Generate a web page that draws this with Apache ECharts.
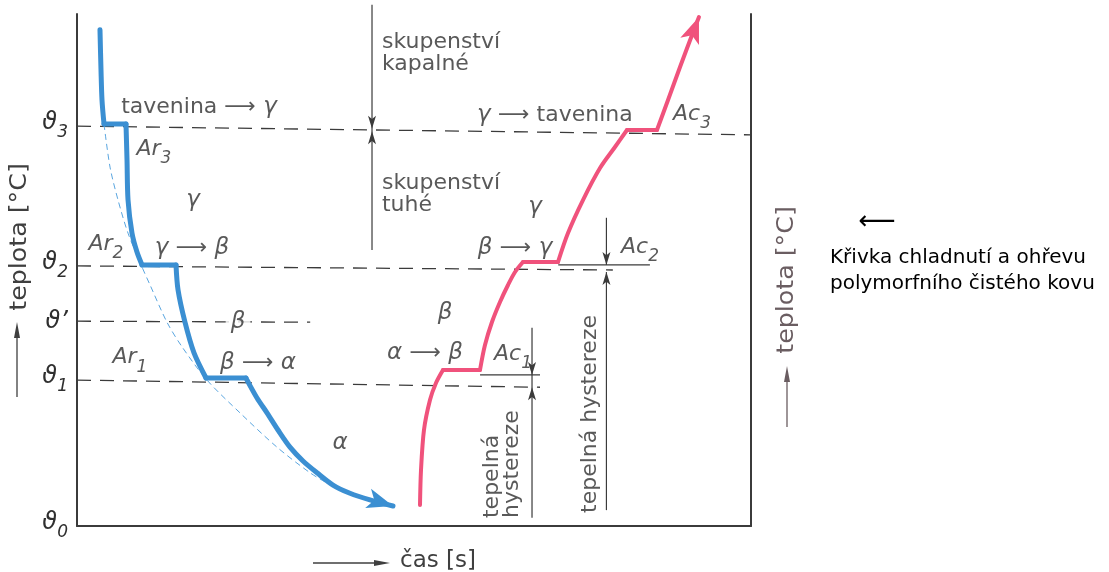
<!DOCTYPE html>
<html>
<head>
<meta charset="utf-8">
<script src="https://cdn.jsdelivr.net/npm/echarts@6/dist/echarts.min.js"></script>
<style>
  html, body { margin: 0; padding: 0; background: #fff; }
  #chart { width: 1109px; height: 572px; }
</style>
</head>
<body>
<div id="chart"></div>
<script>
// Cooling and heating curve of a polymorphic pure metal.
// Time runs 0..100 along x, temperature 0..100 along y (relative units).

// cooling: melt -> gamma -> beta -> alpha, with arrests Ar3, Ar2, Ar1
const coolingCurve = [
  [3.41, 96.9], [3.56, 89.1], [3.71, 83.2], [4.01, 78.5], [7.27, 78.5],
  [7.42, 71.5], [7.57, 63.7], [8.16, 57.2], [8.90, 53.5], [9.64, 51.0],
  [14.69, 51.0], [14.99, 46.1], [16.02, 39.8], [17.36, 33.8], [19.14, 28.9],
  [25.07, 28.9], [25.22, 28.5], [26.71, 25.0], [28.19, 22.1], [29.82, 18.75],
  [31.60, 15.4], [33.53, 12.7], [35.61, 10.4], [37.98, 8.0], [40.50, 6.4],
  [43.47, 5.1], [46.88, 3.9]
];

// cooling without transformations (thin dashed)
const plainCooling = [
  [4.01, 78.5], [4.90, 70.1], [6.08, 63.7], [7.57, 57.2], [9.64, 50.6],
  [10.83, 47.1], [13.35, 39.8], [15.58, 35.0], [19.29, 28.5], [24.18, 22.1],
  [29.67, 15.4], [34.57, 10.4], [37.09, 8.4]
];

// heating: alpha -> beta -> gamma -> melt, with arrests Ac1, Ac2, Ac3
const heatingCurve = [
  [50.89, 4.10], [51.04, 10.94], [51.48, 18.75], [52.37, 24.61], [53.26, 27.93],
  [54.30, 30.47], [59.79, 30.47], [60.53, 35.35], [61.57, 39.84], [62.76, 43.75],
  [63.95, 47.07], [64.99, 49.61], [66.17, 51.56], [71.36, 51.56], [72.85, 57.23],
  [75.07, 63.67], [77.60, 69.92], [79.82, 74.02], [81.60, 77.34], [86.05, 77.34],
  [87.69, 83.20], [89.47, 89.65], [91.25, 95.90], [92.28, 99.41]
];

// transformation temperature levels (dashed) and reference ticks for Ac1 / Ac2
const levelTheta3 = [[0, 78.1], [100, 76.4]];
const levelTheta2 = [[0, 50.8], [79.5, 50.0]];
const levelThetaP = [[0, 40.0], [34.6, 39.8]];
const levelTheta1 = [[0, 28.5], [68.7, 27.1]];
const levelAc1 = [[59.8, 29.5], [68.7, 29.5]];
const levelAc2 = [[71.4, 51.0], [85.0, 51.0]];

// dimension lines: x, start, end, and where the arrow tips meet
const dimensionLines = [
  { x: 43.77, from: 101.8, to: 53.9, down: 77.6, up: 77.1 },
  { x: 67.51, from: 38.7, to: 1.6, down: 29.5, up: 27.1 },
  { x: 78.55, from: 60.2, to: 51.0, down: 51.0 },
  { x: 78.55, from: 49.6, to: 3.1, up: 49.6 }
];

// y-axis tick labels
const tickValues = [0, 28.5, 40, 50.8, 78.1];
const tickNames = ['{t|ϑ}{s|0}', '{t|ϑ}{s|1}', '{t|ϑ’}', '{t|ϑ}{s|2}', '{t|ϑ}{s|3}'];

// centred labels inside the plot
const centeredLabels = [
  [18.10, 81.8, '{w|tavenina }{r|⟶}{g| γ}'],
  [17.06, 54.3, '{g|γ }{r|⟶}{g| β}'],
  [26.85, 31.8, '{g|β }{r|⟶}{g| α}'],
  [70.90, 80.3, '{g|γ }{r|⟶}{w| tavenina}'],
  [64.99, 54.3, '{g|β }{r|⟶}{g| γ}'],
  [51.63, 33.8, '{g|α }{r|⟶}{g| β}'],
  [17.21, 63.7, '{g|γ}'],
  [39.02, 16.2, '{g|α}'],
  [67.95, 62.3, '{g|γ}'],
  [54.60, 41.6, '{g|β}'],
  [11.42, 72.85, '{m|Ar}{s|3}'],
  [4.30, 54.3, '{m|Ar}{s|2}'],
  [7.86, 32.2, '{m|Ar}{s|1}'],
  [91.25, 79.7, '{m|Ac}{s|3}'],
  [83.53, 53.7, '{m|Ac}{s|2}'],
  [64.69, 32.8, '{m|Ac}{s|1}']
];
// label sitting in a gap of the dashed level line
const gapLabels = [[23.89, 39.8, '{g|β}']];

// left-aligned words
const wordLabels = [
  [45.25, 94.53, 'skupenství'],
  [45.25, 90.23, 'kapalné'],
  [45.25, 66.99, 'skupenství'],
  [45.25, 62.70, 'tuhé']
];

// vertical words, reading upwards from the given point
const verticalLabels = [
  [61.57, 1.56, 'tepelná'],
  [64.54, 1.56, 'hystereze'],
  [76.11, 2.54, 'tepelná hystereze']
];

const INK = '#2f2f2f';
const LINE = '#3b3b3b';
const FONT = '"DejaVu Sans", sans-serif';
const BLUE = '#3b8fd2';
const PINK = '#f0527c';

const markRich = {
  w: { fontFamily: FONT, fontSize: 22, color: INK },
  r: { fontFamily: FONT, fontSize: 22, color: INK },
  g: { fontFamily: FONT, fontSize: 23, color: INK, fontStyle: 'italic' },
  m: { fontFamily: FONT, fontSize: 22, color: INK, fontStyle: 'italic', lineHeight: 22, verticalAlign: 'top' },
  s: { fontFamily: FONT, fontSize: 17, color: INK, fontStyle: 'italic', lineHeight: 29, verticalAlign: 'bottom' }
};
const tickRich = {
  t: { fontFamily: FONT, fontSize: 24, color: INK, fontStyle: 'italic', lineHeight: 22, verticalAlign: 'top' },
  s: { fontFamily: FONT, fontSize: 17, color: INK, fontStyle: 'italic', lineHeight: 30, verticalAlign: 'bottom' }
};

function arrowAt(point, rotate, size, color) {
  return { value: point, symbol: 'arrow', symbolSize: size, symbolRotate: rotate, itemStyle: { color: color } };
}

function path(data, lineStyle, z, smooth) {
  return {
    type: 'line', data: data, symbol: 'none', showSymbol: true, silent: true,
    clip: false, z: z, lineStyle: lineStyle, emphasis: { disabled: true }, animation: false,
    smooth: smooth || false
  };
}

// split a curve into its curved runs and its flat arrests, so the
// runs can be smoothed while the arrests keep sharp corners
function curveRuns(curve) {
  const runs = [];
  let run = [curve[0]];
  for (let i = 1; i < curve.length; i++) {
    const flat = curve[i][1] === curve[i - 1][1];
    if (flat) {
      if (run.length > 1) runs.push({ pts: run, flat: false });
      runs.push({ pts: [curve[i - 1], curve[i]], flat: true });
      run = [curve[i]];
    } else {
      run.push(curve[i]);
    }
  }
  if (run.length > 1) runs.push({ pts: run, flat: false });
  return runs;
}

function drawCurve(curve, color, width, arrowRotate) {
  const runs = curveRuns(curve);
  runs.forEach(function (r, idx) {
    let pts = r.pts.slice();
    if (idx === runs.length - 1) {
      const tip = pts.pop();
      pts.push(arrowAt(tip, arrowRotate, [15, 26], color));
    }
    series.push(path(pts, { color: color, width: width, cap: 'round', join: 'round' }, 4, r.flat ? false : 0.3));
  });
}

function labelSeries(items, label, z) {
  return {
    type: 'scatter', silent: true, z: z || 6, symbolSize: 1, animation: false,
    itemStyle: { color: 'rgba(0,0,0,0)' },
    data: items.map(function (it) { return { value: [it[0], it[1]], name: it[2] }; }),
    label: Object.assign({
      show: true, position: 'inside', formatter: function (p) { return p.name; },
      color: INK, fontFamily: FONT, fontSize: 22, rich: markRich
    }, label)
  };
}

const dashed = { color: LINE, width: 1.3, type: [14, 9] };
const thin = { color: LINE, width: 1.2 };

const series = [];
[levelTheta3, levelTheta2, levelThetaP, levelTheta1].forEach(function (d) { series.push(path(d, dashed, 1)); });
[levelAc1, levelAc2].forEach(function (d) { series.push(path(d, thin, 1)); });

dimensionLines.forEach(function (dl) {
  const pts = [[dl.x, dl.from]];
  if (dl.down !== undefined) pts.push(arrowAt([dl.x, dl.down], 180, [6, 13], LINE));
  if (dl.up !== undefined) pts.push(arrowAt([dl.x, dl.up], 0, [6, 13], LINE));
  pts.push([dl.x, dl.to]);
  series.push(path(pts, thin, 2));
});

series.push(path(plainCooling, { color: '#5aa6e0', width: 1, type: [6, 4] }, 3, 0.3));

drawCurve(coolingCurve, BLUE, 5, -107);
drawCurve(heatingCurve, PINK, 4, -21);

series.push(labelSeries(centeredLabels, {}));
series.push(labelSeries(gapLabels, { backgroundColor: '#fff', padding: [0, 5] }, 5));
series.push(labelSeries(wordLabels, { align: 'left', verticalAlign: 'middle' }));
series.push(labelSeries(verticalLabels, { align: 'left', verticalAlign: 'middle', rotate: 90 }));

const axisLineStyle = { color: LINE, width: 2 };

const option = {
  animation: false,
  backgroundColor: '#fff',
  grid: { left: 77, top: 14, width: 674, height: 512 },
  xAxis: {
    type: 'value', min: 0, max: 100,
    axisLine: { show: true, onZero: false, lineStyle: axisLineStyle },
    axisTick: { show: false }, axisLabel: { show: false }, splitLine: { show: false }
  },
  yAxis: [
    {
      type: 'value', min: 0, max: 100, position: 'left',
      axisLine: { show: true, onZero: false, lineStyle: axisLineStyle },
      axisTick: { show: false }, splitLine: { show: false },
      axisLabel: {
        show: true, customValues: tickValues, margin: 9,
        formatter: function (v) { return tickNames[tickValues.indexOf(v)]; },
        rich: tickRich
      }
    },
    {
      type: 'value', min: 0, max: 100, position: 'right',
      axisLine: { show: true, onZero: false, lineStyle: axisLineStyle },
      axisTick: { show: false }, axisLabel: { show: false }, splitLine: { show: false }
    }
  ],
  series: series,
  graphic: [
    // axis titles
    { type: 'text', x: 20, y: 237, rotation: Math.PI / 2, scaleX: 1.1,
      style: { text: 'teplota [°C]', font: '23px "DejaVu Sans"', fill: '#3f3f3f', align: 'center', verticalAlign: 'middle', textAlign: 'center', textVerticalAlign: 'middle' } },
    { type: 'line', shape: { x1: 17, y1: 397, x2: 17, y2: 334 }, style: { stroke: '#3f3f3f', lineWidth: 1.3 } },
    { type: 'polygon', shape: { points: [[17, 322], [14, 338], [20, 338]] }, style: { fill: '#3f3f3f' } },

    { type: 'text', x: 787, y: 280, rotation: Math.PI / 2, scaleX: 1.1,
      style: { text: 'teplota [°C]', font: '23px "DejaVu Sans"', fill: '#6a5d61', align: 'center', verticalAlign: 'middle', textAlign: 'center', textVerticalAlign: 'middle' } },
    { type: 'line', shape: { x1: 787, y1: 427, x2: 787, y2: 378 }, style: { stroke: '#6a5d61', lineWidth: 1.3 } },
    { type: 'polygon', shape: { points: [[787, 366], [784, 382], [790, 382]] }, style: { fill: '#6a5d61' } },

    { type: 'line', shape: { x1: 313, y1: 563, x2: 376, y2: 563 }, style: { stroke: '#3f3f3f', lineWidth: 1.3 } },
    { type: 'polygon', shape: { points: [[390, 563], [374, 560], [374, 566]] }, style: { fill: '#3f3f3f' } },
    { type: 'text', x: 400, y: 561,
      style: { text: 'čas [s]', font: '23px "DejaVu Sans"', fill: '#3f3f3f', align: 'left', verticalAlign: 'middle', textAlign: 'left', textVerticalAlign: 'middle' } },

    // caption
    { type: 'text', x: 877, y: 222,
      style: { text: '⟵', font: '26px "DejaVu Sans"', fill: '#000', align: 'center', verticalAlign: 'middle', textAlign: 'center', textVerticalAlign: 'middle' } },
    { type: 'text', x: 830, y: 258,
      style: { text: 'Křivka chladnutí a ohřevu', font: '20px "DejaVu Sans"', fill: '#000', align: 'left', verticalAlign: 'middle', textAlign: 'left', textVerticalAlign: 'middle' } },
    { type: 'text', x: 830, y: 284,
      style: { text: 'polymorfního čistého kovu', font: '20px "DejaVu Sans"', fill: '#000', align: 'left', verticalAlign: 'middle', textAlign: 'left', textVerticalAlign: 'middle' } }
  ]
};

const chart = echarts.init(document.getElementById('chart'));
chart.setOption(option);
</script>
</body>
</html>
